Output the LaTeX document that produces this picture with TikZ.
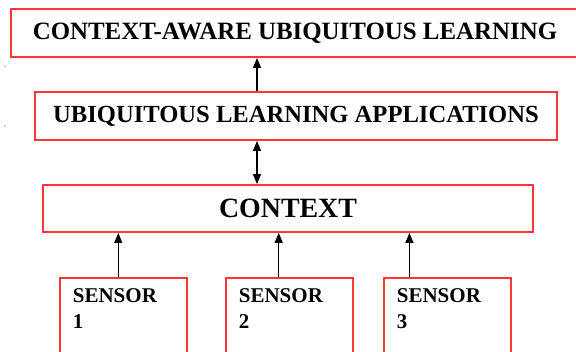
\documentclass[tikz,border=0pt]{standalone}
\usepackage{fontspec}
\setmainfont{Liberation Serif}
\usetikzlibrary{arrows.meta}
\definecolor{boxred}{RGB}{255,55,55}
\begin{document}
\begin{tikzpicture}[x=1pt,y=-1pt,
  box/.style={draw=boxred, line width=1.8pt, rectangle, inner sep=0pt, font=\bfseries},
  sensorbox/.style={draw=boxred, line width=1.8pt, rectangle, anchor=north west,
     inner xsep=13pt, inner ysep=0pt, align=left, text width=101pt,
     text height=24.7pt, text depth=70pt, font=\fontsize{21}{25.6}\selectfont\bfseries},
  arr/.style={-{Triangle[length=10pt,width=8pt]}, line width=1.2pt, black},
  darr/.style={{Triangle[length=10pt,width=8pt]}-{Triangle[length=10pt,width=8pt]}, line width=1.2pt, black},
  straymark/.style={font=\fontsize{9}{9}\selectfont, inner sep=0pt, text=black!70}
]
\useasboundingbox (0,0) rectangle (576,351);
\fill[white] (0,0) rectangle (576,351);

\node[box, minimum width=568pt, minimum height=48pt, font=\fontsize{24.9}{28}\selectfont\bfseries] (t1) at (295,33) {CONTEXT-AWARE UBIQUITOUS LEARNING};
\node[box, minimum width=522pt, minimum height=48pt, font=\fontsize{24.6}{28}\selectfont\bfseries] (t2) at (296,116) {UBIQUITOUS LEARNING APPLICATIONS};
\node[box, minimum width=490pt, minimum height=47pt, font=\fontsize{27.9}{30}\selectfont\bfseries] (ctx) at (288,208.5) {CONTEXT};

\node[sensorbox] (s1) at (59,277) {SENSOR\\1};
\node[sensorbox] (s2) at (225,277) {SENSOR\\2};
\node[sensorbox] (s3) at (383,277) {SENSOR\\3};

\coordinate (a1) at (257,0);
\coordinate (b1) at (118.3,0);
\coordinate (b2) at (278.7,0);
\coordinate (b3) at (409.4,0);

\draw[arr] (t2.north -| a1) -- (t1.south -| a1);
\draw[darr] (t2.south -| a1) -- (ctx.north -| a1);
\draw[arr] (s1.north -| b1) -- (ctx.south -| b1);
\draw[arr] (s2.north -| b2) -- (ctx.south -| b2);
\draw[arr] (s3.north -| b3) -- (ctx.south -| b3);

\node[straymark] (m1) at (5,69) {\textasciigrave};
\node[straymark] (m2) at (5,129) {\textasciigrave};
\end{tikzpicture}
\end{document}
